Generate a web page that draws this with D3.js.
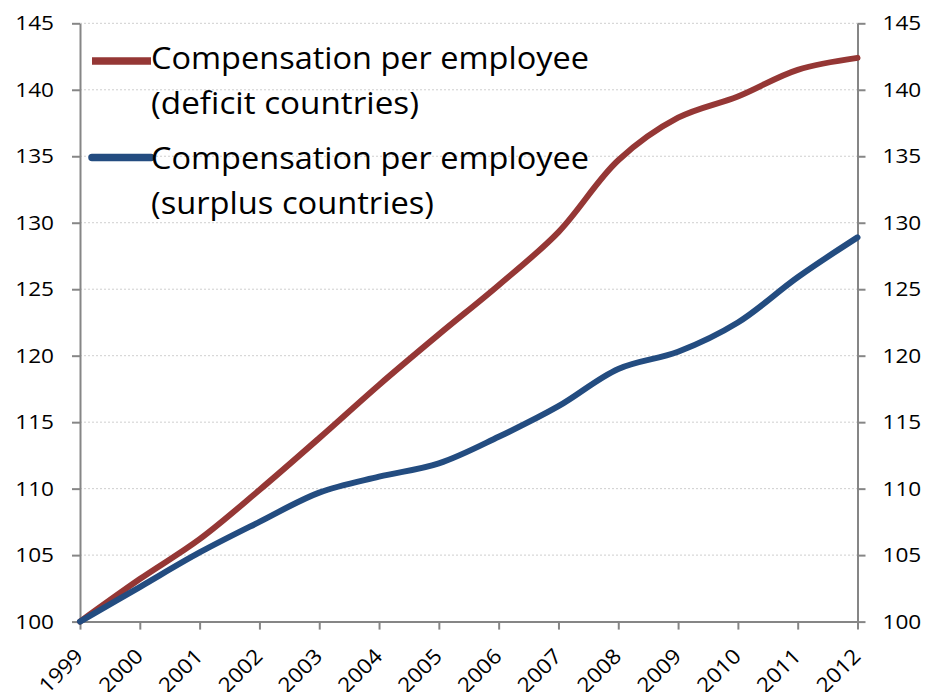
<!DOCTYPE html>
<html>
<head>
<meta charset="utf-8">
<script src="https://cdn.jsdelivr.net/npm/d3@7"></script>
<style>
  html, body { margin: 0; padding: 0; background: #ffffff; }
  svg { display: block; }
  text { font-family: "Open Sans", "Liberation Sans", sans-serif; fill: #000; }
</style>
</head>
<body>
<svg id="chart" width="926" height="692"></svg>
<script>
// ---- Data ----
const years = [1999, 2000, 2001, 2002, 2003, 2004, 2005, 2006, 2007, 2008, 2009, 2010, 2011, 2012];
const deficitValues = [100, 103.2, 106.2, 109.9, 113.8, 117.8, 121.6, 125.3, 129.3, 134.7, 137.9, 139.5, 141.5, 142.4];
const surplusValues = [100, 102.6, 105.2, 107.5, 109.7, 110.9, 111.9, 113.9, 116.2, 119.0, 120.3, 122.5, 125.9, 128.9];
const yTicks = [100, 105, 110, 115, 120, 125, 130, 135, 140, 145];
const seriesNames = [
  ["Compensation per employee", "(deficit countries)"],
  ["Compensation per employee", "(surplus countries)"]
];
const seriesColors = ["#953735", "#234C80"];

// ---- Layout ----
const W = 926, H = 692;
const margin = { left: 80, right: 68.5, top: 23.3, bottom: 70.4 };
const svg = d3.select("#chart");

const x = d3.scaleLinear().domain([1999, 2012]).range([margin.left, W - margin.right]);
const y = d3.scaleLinear().domain([100, 145]).range([H - margin.bottom, margin.top]);

const axisColor = "#868686";

// gridlines
svg.append("g").selectAll("line").data(yTicks.filter(d => d > 100)).join("line")
  .attr("x1", x(1999)).attr("x2", x(2012))
  .attr("y1", d => y(d)).attr("y2", d => y(d))
  .attr("stroke", "#cfcfcf").attr("stroke-width", 1).attr("stroke-dasharray", "2,2");

function styleAxis(g) {
  g.select(".domain").attr("stroke", axisColor).attr("stroke-width", 2);
  g.selectAll(".tick line").attr("stroke", axisColor).attr("stroke-width", 2);
}

// left axis
const gl = svg.append("g").attr("transform", `translate(${x(1999)},0)`)
  .call(d3.axisLeft(y).tickValues(yTicks).tickSize(8).tickSizeOuter(0).tickPadding(18));
styleAxis(gl);
gl.selectAll("text").attr("font-size", 20).attr("font-family", "Open Sans");

// right axis
const gr = svg.append("g").attr("transform", `translate(${x(2012)},0)`)
  .call(d3.axisRight(y).tickValues(yTicks).tickSize(8).tickSizeOuter(0).tickPadding(17));
styleAxis(gr);
gr.selectAll("text").attr("font-size", 20).attr("font-family", "Open Sans");

// bottom axis
const gb = svg.append("g").attr("transform", `translate(0,${y(100)})`)
  .call(d3.axisBottom(x).tickValues(years).tickFormat(d3.format("d")).tickSize(8).tickSizeOuter(0));
styleAxis(gb);
gb.selectAll("text")
  .attr("font-size", 21).attr("font-family", "Open Sans")
  .attr("text-anchor", "end")
  .attr("dy", null).attr("y", null)
  .attr("transform", "translate(4,36) rotate(-45)");

// stretch tick labels horizontally like the original
[gl, gr].forEach(g => g.selectAll("text").each(function () {
  const len = this.getComputedTextLength();
  d3.select(this).attr("textLength", len * 1.13).attr("lengthAdjust", "spacingAndGlyphs");
}));
gb.selectAll("text").each(function () {
  const len = this.getComputedTextLength();
  d3.select(this).attr("textLength", len * 1.08).attr("lengthAdjust", "spacingAndGlyphs");
});

// lines
const line = d3.line().x((d, i) => x(years[i])).y(d => y(d)).curve(d3.curveCatmullRom.alpha(0.5));
[deficitValues, surplusValues].forEach((vals, k) => {
  svg.append("path").datum(vals)
    .attr("d", line)
    .attr("fill", "none")
    .attr("stroke", seriesColors[k])
    .attr("stroke-width", 6)
    .attr("stroke-linejoin", "round")
    .attr("stroke-linecap", "round");
});

// legend
const legendRows = [
  { sampleY: 61, baselines: [69, 114], cap: "butt" },
  { sampleY: 157.5, baselines: [169, 214], cap: "round" }
];
const textLens = [[438, 268], [438, 283]];
legendRows.forEach((r, k) => {
  svg.append("line")
    .attr("x1", 92).attr("x2", 151)
    .attr("y1", r.sampleY).attr("y2", r.sampleY)
    .attr("stroke", seriesColors[k]).attr("stroke-width", 7.5)
    .attr("stroke-linecap", r.cap);
  seriesNames[k].forEach((t, j) => {
    svg.append("text")
      .attr("x", 151).attr("y", r.baselines[j])
      .attr("font-size", 30.8)
      .attr("textLength", textLens[k][j]).attr("lengthAdjust", "spacingAndGlyphs")
      .text(t);
  });
});
</script>
</body>
</html>
